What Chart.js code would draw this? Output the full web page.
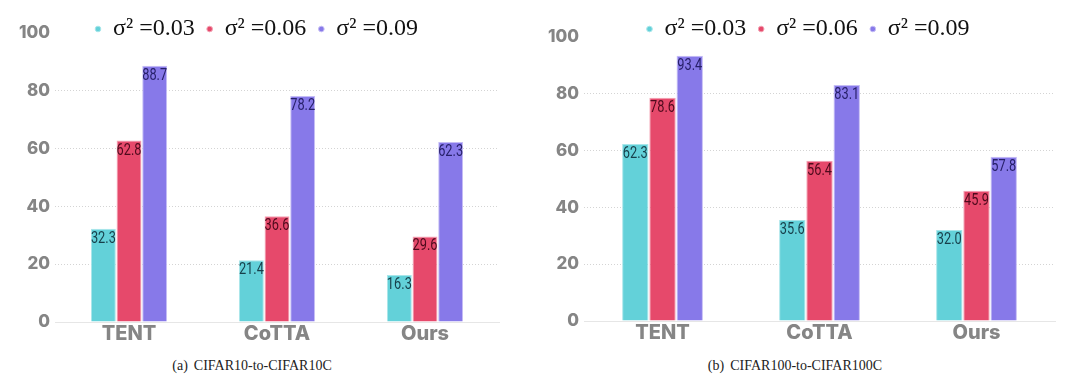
<!DOCTYPE html>
<html>
<head>
<meta charset="utf-8">
<script src="https://cdn.jsdelivr.net/npm/chart.js@4.4.1/dist/chart.umd.min.js"></script>
<style>
  body { margin: 0; background: #fff; width: 1080px; height: 391px; position: relative; overflow: hidden; }
  .box { position: absolute; top: 0; }
  .cap { position: absolute; top: 358px; font-family: "Liberation Serif", "Times New Roman", serif; font-size: 14px; color: #222; white-space: nowrap; transform: translateX(-50%); }
  .cap span { margin-right: 6px; }
</style>
</head>
<body>
<div class="box" style="left:0px"><canvas id="c10" width="515" height="348"></canvas></div>
<div class="box" style="left:540px"><canvas id="c100" width="540" height="347"></canvas></div>
<div class="cap" style="left:252px"><span>(a)</span>CIFAR10-to-CIFAR10C</div>
<div class="cap" style="left:795px"><span>(b)</span>CIFAR100-to-CIFAR100C</div>
<script>
var categories = ['TENT', 'CoTTA', 'Ours'];
var seriesNames = ['σ² =0.03', 'σ² =0.06', 'σ² =0.09'];
var yTicks = [0, 20, 40, 60, 80, 100];

// CIFAR10-to-CIFAR10C
var c10_s003 = [32.3, 21.4, 16.3];
var c10_s006 = [62.8, 36.6, 29.6];
var c10_s009 = [88.7, 78.2, 62.3];

// CIFAR100-to-CIFAR100C
var c100_s003 = [62.3, 35.6, 32.0];
var c100_s006 = [78.6, 56.4, 45.9];
var c100_s009 = [93.4, 83.1, 57.8];

var barColors = ['#63d1d9', '#e6496b', '#8779e9'];
var edgeColors = ['#a9e6ea', '#f3a3b4', '#c5bdf5'];
var labelColors = ['#173f4a', '#4e0a1c', '#27206a'];

// values written at the top inside each bar (narrow look)
var barValues = {
  id: 'barValues',
  afterDatasetsDraw: function(chart) {
    var ctx = chart.ctx;
    var sx = 0.8;
    ctx.save();
    ctx.font = '16px Roboto, sans-serif';
    ctx.textAlign = 'center';
    ctx.textBaseline = 'top';
    ctx.scale(sx, 1);
    chart.data.datasets.forEach(function(ds, i) {
      ctx.fillStyle = labelColors[i];
      chart.getDatasetMeta(i).data.forEach(function(bar, j) {
        ctx.fillText(ds.data[j].toFixed(1), bar.x / sx, bar.y + 2);
      });
    });
    ctx.restore();
  }
};

// legend sits over the top of the plot, like in the original
var legendTweak = {
  id: 'legendTweak',
  afterInit: function(chart) {
    var lg = chart.legend;
    var fit = lg.fit;
    var cut = chart.options.plugins.legendTweak.cut;
    lg.fit = function() { fit.call(this); this.height -= cut; };
  },
  afterLayout: function(chart) {
    var o = chart.options.plugins.legendTweak;
    var lg = chart.legend;
    lg.left += o.shift;
    lg.right += o.shift;
    lg.top += 1;
    lg.height += o.cut;
    lg.bottom += o.cut + 1;
  }
};

function makeChart(id, s003, s006, s009, pad, cut, shift) {
  var series = [s003, s006, s009];
  new Chart(document.getElementById(id), {
    type: 'bar',
    data: {
      labels: categories,
      datasets: series.map(function(d, i) {
        return {
          label: seriesNames[i],
          data: d,
          backgroundColor: barColors[i],
          borderColor: edgeColors[i],
          borderWidth: 1,
          categoryPercentage: 0.52,
          barPercentage: 0.97
        };
      })
    },
    options: {
      responsive: false,
      animation: false,
      layout: { padding: pad },
      plugins: {
        legendTweak: { cut: cut, shift: shift },
        tooltip: { enabled: false },
        legend: {
          position: 'top',
          labels: {
            usePointStyle: true,
            pointStyle: 'circle',
            boxWidth: 6,
            boxHeight: 4,
            padding: 12,
            color: '#111',
            font: { family: '"Liberation Serif", serif', size: 24 }
          }
        }
      },
      scales: {
        x: {
          grid: { display: false, drawTicks: false },
          border: { display: true, color: '#e6e6e6' },
          ticks: {
            padding: 0,
            color: '#858585',
            font: { family: 'Inter, "Open Sans", sans-serif', size: 20, weight: 800 }
          }
        },
        y: {
          min: 0,
          max: 100,
          afterBuildTicks: function(axis) {
            axis.ticks = yTicks.map(function(v) { return { value: v }; });
          },
          border: { display: false, dash: [1, 2] },
          grid: {
            drawTicks: false,
            color: function(c) {
              return (c.tick && (c.tick.value === 0 || c.tick.value === 100)) ? 'rgba(0,0,0,0)' : '#d4d4d4';
            }
          },
          ticks: {
            padding: 5,
            color: '#858585',
            font: { family: 'Inter, "Open Sans", sans-serif', size: 17, weight: 800 }
          }
        }
      }
    },
    plugins: [barValues, legendTweak]
  });
}

makeChart('c10', c10_s003, c10_s006, c10_s009, { left: 14, right: 16, top: 4, bottom: 2 }, 17, 0);
makeChart('c100', c100_s003, c100_s006, c100_s009, { left: 3, right: 25, top: 4, bottom: 2 }, 13, 9);
</script>
</body>
</html>
